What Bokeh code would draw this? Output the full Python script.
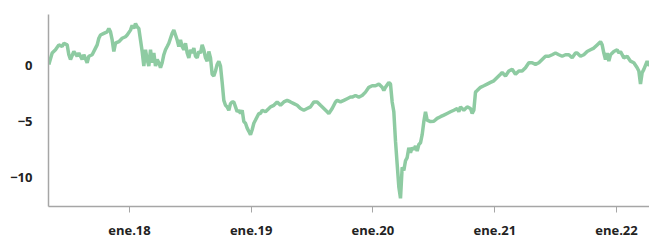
import pandas as pd
from bokeh.plotting import figure
from bokeh.models import ColumnDataSource, Range1d, FixedTicker, CustomJSTickFormatter
from bokeh.embed import file_html
from bokeh.resources import INLINE

# days relative to 2018-01-01 and series values
dias = [-242, -232, -222, -212, -202, -197, -187, -182, -177, -167, -157, -152, -142, -137,
        -127, -122, -112, -102, -97, -92, -87, -77, -67, -62, -57, -52, -47, -42, -32, -22,
        -12, -7, 3, 8, 13, 18, 23, 28, 33, 38, 43, 48, 53, 58, 63, 68, 73, 78, 83, 88, 93,
        98, 103, 108, 113, 118, 123, 128, 133, 138, 143, 148, 153, 158, 163, 168, 173, 178,
        183, 188, 193, 198, 203, 208, 213, 218, 223, 228, 233, 238, 243, 248, 253, 258, 263,
        268, 273, 278, 283, 288, 293, 298, 303, 308, 313, 318, 323, 328, 333, 338, 343, 348,
        353, 358, 363, 368, 373, 378, 383, 388, 393, 398, 408, 418, 423, 433, 443, 453, 463,
        473, 483, 493, 503, 513, 523, 533, 543, 553, 563, 573, 583, 593, 598, 608, 618, 623,
        633, 643, 653, 663, 668, 678, 688, 698, 708, 718, 728, 738, 748, 758, 763, 768, 778,
        783, 788, 793, 798, 803, 808, 813, 818, 823, 828, 833, 838, 843, 848, 853, 858, 863,
        868, 873, 878, 883, 888, 893, 903, 913, 923, 933, 943, 953, 963, 973, 983, 988, 993,
        1003, 1013, 1023, 1028, 1033, 1038, 1043, 1053, 1063, 1073, 1083, 1093, 1103, 1113,
        1118, 1128, 1138, 1148, 1158, 1168, 1178, 1188, 1198, 1208, 1218, 1228, 1238, 1248,
        1258, 1268, 1278, 1288, 1298, 1308, 1318, 1328, 1338, 1343, 1353, 1363, 1373, 1383,
        1393, 1403, 1413, 1418, 1423, 1428, 1433, 1438, 1443, 1453, 1463, 1468, 1473, 1483,
        1493, 1503, 1513, 1523, 1528, 1533, 1538, 1543, 1553, 1560]
valores = [0.09, 1.11, 1.40, 1.84, 1.69, 1.99, 1.84, 0.96, 0.53, 1.25, 0.82, 1.11, 0.53, 0.96,
           0.24, 0.82, 0.96, 1.55, 1.84, 2.43, 2.72, 2.87, 3.01, 3.31, 3.01, 2.28, 1.25, 1.99,
           2.13, 2.43, 2.57, 2.72, 3.16, 3.60, 3.31, 3.75, 3.45, 3.31, 2.28, 1.25, -0.06, 1.40,
           0.53, -0.06, 1.40, 0.24, 1.11, -0.06, 0.53, 0.24, -0.20, 0.24, 0.96, 1.40, 1.69,
           1.99, 2.43, 2.87, 3.16, 2.72, 2.28, 1.69, 2.28, 1.69, 1.40, 1.99, 1.11, 0.68, 1.40,
           1.11, 1.55, 0.82, 0.68, 1.25, 1.11, 1.84, 1.40, 0.68, 0.38, 1.25, 0.68, -0.79, -0.94,
           -0.50, 0.09, 0.38, -0.06, -1.52, -3.13, -3.57, -3.71, -4.01, -3.42, -3.27, -3.27,
           -3.71, -4.15, -4.01, -4.30, -4.01, -5.03, -5.18, -5.61, -5.90, -6.20, -5.76, -5.18,
           -4.89, -4.59, -4.30, -4.30, -4.01, -4.15, -3.86, -3.71, -3.57, -3.27, -3.57, -3.27,
           -3.13, -3.27, -3.42, -3.57, -3.86, -4.01, -3.86, -3.71, -3.27, -3.27, -3.57, -3.86,
           -4.15, -4.30, -3.86, -3.27, -3.13, -3.27, -3.13, -2.98, -2.83, -2.83, -2.69, -2.83,
           -2.69, -2.39, -1.96, -1.82, -1.82, -1.67, -1.96, -2.25, -1.96, -1.52, -1.67, -3.27,
           -4.15, -6.78, -8.83, -10.88, -11.90, -9.12, -9.41, -8.54, -8.25, -7.37, -7.81, -7.37,
           -7.52, -7.22, -7.66, -7.08, -6.93, -6.20, -5.03, -4.15, -4.89, -5.03, -5.00, -4.74,
           -4.59, -4.45, -4.30, -4.15, -4.01, -3.86, -4.15, -3.71, -4.01, -3.71, -3.86, -4.30,
           -4.01, -2.39, -2.25, -1.96, -1.82, -1.67, -1.52, -1.38, -1.08, -0.79, -0.64, -0.94,
           -0.50, -0.35, -0.79, -0.50, -0.50, -0.20, 0.24, 0.24, 0.09, 0.24, 0.53, 0.82, 0.82,
           0.96, 1.11, 0.96, 0.82, 0.96, 0.96, 0.68, 1.11, 1.11, 0.82, 0.96, 1.25, 1.40, 1.55,
           1.84, 2.13, 1.84, 1.11, 0.53, 1.11, 0.38, 0.96, 1.25, 1.40, 1.11, 1.25, 0.68, 0.82,
           0.38, 0.24, -0.20, -0.50, -1.67, -0.64, -0.35, 0.38, -0.06]
ticks_fechas = ["2018-01-01", "2019-01-01", "2020-01-01", "2021-01-01", "2022-01-01"]
ticks_etiquetas = ["ene.18", "ene.19", "ene.20", "ene.21", "ene.22"]
y_ticks = [0, -5, -10]

base = pd.Timestamp("2018-01-01")
fechas = base + pd.to_timedelta(dias, unit="D")
src = ColumnDataSource(dict(x=fechas, y=valores))

x0 = base + pd.Timedelta(days=-243)
x1 = base + pd.Timedelta(days=1560)

p = figure(width=649, height=241, output_backend="svg", toolbar_location=None,
           x_axis_type="datetime",
           x_range=Range1d(x0, x1), y_range=Range1d(-12.63, 4.56),
           min_border_left=48, min_border_right=0, min_border_top=14, min_border_bottom=31)
p.outline_line_color = None
p.xgrid.visible = False
p.ygrid.visible = False

p.line("x", "y", source=src, line_color="#8ecba2", line_width=3.5)

tick_ms = [pd.Timestamp(t).value / 1e6 for t in ticks_fechas]
labels = {str(int(m)): l for m, l in zip(tick_ms, ticks_etiquetas)}
p.xaxis.ticker = FixedTicker(ticks=tick_ms)
p.xaxis.formatter = CustomJSTickFormatter(args=dict(labels=labels),
                                          code="return labels[String(Math.round(tick))] || '';")
p.yaxis.ticker = FixedTicker(ticks=y_ticks)

for ax in (p.xaxis[0], p.yaxis[0]):
    ax.axis_line_color = "#a6a6a6"
    ax.axis_line_width = 1.5
    ax.major_tick_line_color = "#a6a6a6"
    ax.minor_tick_line_color = None
    ax.major_label_text_font = "Open Sans"
    ax.major_label_text_font_style = "bold"
    ax.major_label_text_font_size = "13px"
    ax.major_label_text_color = "#222222"

p.xaxis.major_tick_in = 0
p.xaxis.major_tick_out = 6
p.xaxis.major_label_standoff = 8
p.yaxis.major_tick_in = 0
p.yaxis.major_tick_out = 0
p.yaxis.major_label_standoff = 16

open("out.html", "w").write(file_html(p, INLINE))
